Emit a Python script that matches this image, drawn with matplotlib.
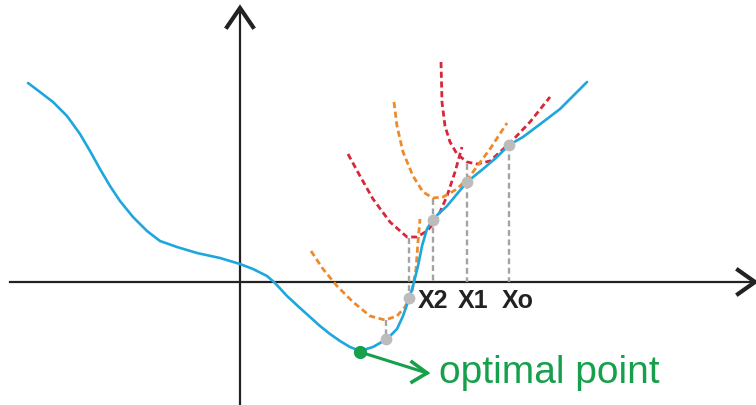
import matplotlib.pyplot as plt

plt.rcParams['font.family'] = ['Liberation Sans', 'DejaVu Sans']

# objective curve f(x)
curve_x = [-21.2, -20.0, -18.7, -17.3, -16.0, -15.0, -14.0, -13.0, -12.0, -10.7, -9.3, -8.0,
           -6.3, -4.3, -2.0, 0.0, 1.3, 2.7, 3.5, 4.7, 6.0, 7.0, 8.0, 9.0, 10.0, 11.0, 12.0, 13.3, 14.7,
           15.7, 16.3, 16.9, 17.3, 17.8, 18.2, 18.7, 19.3, 20.7, 21.7, 22.7, 24.3, 25.7,
           26.9, 28.3, 30.3, 32.0, 33.3, 34.7]
curve_y = [19.9, 19.0, 18.0, 16.6, 14.8, 13.1, 11.3, 9.6, 8.1, 6.5, 5.1, 4.1,
           3.5, 2.9, 2.4, 1.8, 1.3, 0.6, -0.1, -1.4, -2.6, -3.5, -4.4, -5.2, -5.9, -6.5, -6.9, -6.5, -5.7,
           -4.7, -3.4, -1.7, -0.4, 1.6, 3.6, 5.3, 6.3, 7.6, 8.8, 10.0, 11.3, 12.5,
           13.7, 14.5, 16.0, 17.3, 18.6, 20.0]

# local quadratic models (red / orange dashed)
red1_x = [20.1, 20.2, 20.5, 21.0, 21.7, 22.7, 23.7, 25.0, 27.0, 29.0, 31.0]
red1_y = [22.0, 18.0, 15.6, 14.0, 12.8, 12.0, 11.8, 12.1, 13.9, 16.0, 18.5]
red2_x = [10.8, 12.0, 13.3, 15.0, 16.7, 17.7, 18.7, 19.7, 20.7, 21.5, 22.2]
red2_y = [12.8, 10.6, 8.3, 6.0, 4.5, 4.5, 5.1, 6.3, 8.6, 11.0, 13.5]
orange1_x = [15.4, 15.7, 16.3, 17.3, 18.3, 19.3, 20.3, 21.7, 23.0, 25.0, 26.7]
orange1_y = [18.0, 15.6, 13.0, 10.6, 9.0, 8.4, 8.5, 9.3, 10.6, 13.3, 15.9]
orange2_x = [7.1, 8.3, 9.7, 11.3, 13.0, 14.5, 15.7, 16.5, 17.2, 17.6, 17.8, 18.0]
orange2_y = [3.1, 1.3, -0.4, -2.0, -3.4, -3.8, -3.4, -2.5, -1.0, 1.3, 4.0, 6.3]

# iterates and drop lines
iter_x = [26.9, 22.7, 19.3, 16.9, 14.6]
iter_y = [13.7, 10.0, 6.2, -1.6, -5.7]
drop_top = [13.7, 11.8, 8.3, 4.4, -3.8]
drop_bot = [0.0, 0.0, 0.0, -1.6, -5.7]
labels = ['Xo', 'X1', 'X2']
label_x = [26.2, 21.8, 17.8]

opt_x, opt_y = 12.0, -7.0

fig = plt.figure(figsize=(7.56, 4.06), dpi=100)
ax = fig.add_axes([0, 0, 1, 1])
ax.set_xlim(-24.0, 51.6)
ax.set_ylim(-12.3, 28.3)
ax.axis('off')

axc = '#222222'
# axes with chevron heads
ax.plot([-23.0, 51.2], [0, 0], color=axc, lw=1.6, zorder=1)
ax.plot([49.8, 51.5, 49.8], [1.2, 0, -1.2], color=axc, lw=3, solid_joinstyle='miter', zorder=1)
ax.plot([0, 0], [-12.3, 27.2], color=axc, lw=1.6, zorder=1)
ax.plot([-1.3, 0, 1.3], [25.5, 27.4, 25.5], color=axc, lw=3, solid_joinstyle='miter', zorder=1)

for xv, t, b in zip(iter_x, drop_top, drop_bot):
    ax.plot([xv, xv], [t, b], color='#a3a3a3', lw=1.7, dashes=(2.5, 1.5), zorder=2)

red = '#d8263a'
orange = '#ee8a2a'
ax.plot(red1_x, red1_y, color=red, lw=2.0, dashes=(2.2, 1.3), zorder=3)
ax.plot(red2_x, red2_y, color=red, lw=2.0, dashes=(2.2, 1.3), zorder=3)
ax.plot(orange1_x, orange1_y, color=orange, lw=2.0, dashes=(2.2, 1.3), zorder=3)
ax.plot(orange2_x, orange2_y, color=orange, lw=2.0, dashes=(2.2, 1.3), zorder=3)

ax.plot(curve_x, curve_y, color='#1ea7dc', lw=1.9, solid_capstyle='round',
        solid_joinstyle='round', zorder=4)

ax.plot(iter_x, iter_y, 'o', color='#bcbcbc', ms=8.5, mec='none', zorder=5)

for lab, lx in zip(labels, label_x):
    ax.text(lx, -1.8, lab, fontsize=18, fontweight='bold', color=axc, ha='left', va='center', zorder=6)

green = '#17a04c'
ax.plot([opt_x, 18.7], [opt_y, -9.1], color=green, lw=2.2, zorder=5)
ax.plot([17.2, 18.7, 17.2], [-8.0, -9.1, -10.0], color=green, lw=2.6, solid_joinstyle='miter', zorder=5)
ax.plot(opt_x, opt_y, 'o', color=green, ms=9.5, mec='none', zorder=6)
ax.text(19.9, -10.0, 'optimal point', fontsize=28, color=green, ha='left', va='baseline')

fig.savefig('out.png', dpi=100)
